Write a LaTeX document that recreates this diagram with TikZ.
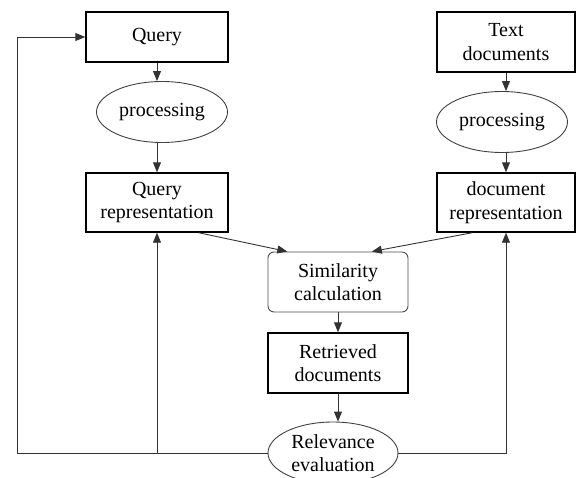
\documentclass[tikz,border=0pt]{standalone}
\usepackage{fontspec}
\setmainfont{Liberation Serif}
\usepackage{tikz}
\usetikzlibrary{arrows.meta, positioning, shapes.geometric, calc}

\begin{document}
\begin{tikzpicture}[x=1pt, y=-1pt,
  every node/.style={font=\fontsize{20}{23.5}\selectfont, align=center, inner sep=0pt},
  box/.style={draw=black, line width=1.4pt, minimum width=142pt, minimum height=59pt},
  oval/.style={ellipse, draw=black!75, line width=0.9pt, minimum width=131pt, minimum height=61pt},
  simbox/.style={draw=black!70, line width=0.9pt, rounded corners=6pt, minimum width=140pt, minimum height=60pt},
  link/.style={draw=black!80, line width=0.9pt, -{Triangle[length=10pt,width=8pt]}}]
  \useasboundingbox (0,0) rectangle (576,477);
  % query side (left column)
  \node[box, minimum height=50pt] (query) at (157,37) {Query};
  \node[oval] (qproc) at (162,112) {processing};
  \node[box] (qrep) at (157,202.5) {Query\\representation};
  % document side (right column)
  \node[box, minimum width=138pt, minimum height=60pt] (tdoc) at (506,42) {Text\\documents};
  \node[oval] (dproc) at (502,122) {processing};
  \node[box, minimum width=138pt] (drep) at (506,202.5) {document\\representation};
  % matching and feedback (middle column)
  \node[simbox] (sim) at (338,282) {Similarity\\calculation};
  \node[box, minimum width=140pt, minimum height=60pt] (ret) at (338,363) {Retrieved\\documents};
  \node[oval, minimum width=130pt, minimum height=62pt] (rel) at (333,453) {Relevance\\evaluation};
  \coordinate (fbl) at (17,453);
  % arrows down the columns
  \draw[link] (query.south) -- (query.south |- qproc.north);
  \draw[link] (query.south |- qproc.south) -- (qrep.north);
  \draw[link] (tdoc.south) -- (tdoc.south |- dproc.north);
  \draw[link] (tdoc.south |- dproc.south) -- (drep.north);
  \draw[link] (qrep.-36) -- (sim.149);
  \draw[link] (drep.-138) -- (sim.42);
  \draw[link] (sim.south) -- (ret.north);
  \draw[link] (ret.south) -- (ret.south |- rel.north);
  % feedback loops
  \draw[link] (rel.west) -- (fbl) |- (query.west);
  \draw[link] (qrep.south |- rel.west) -- (qrep.south);
  \draw[link] (rel.east) -| (drep.south);
\end{tikzpicture}
\end{document}
